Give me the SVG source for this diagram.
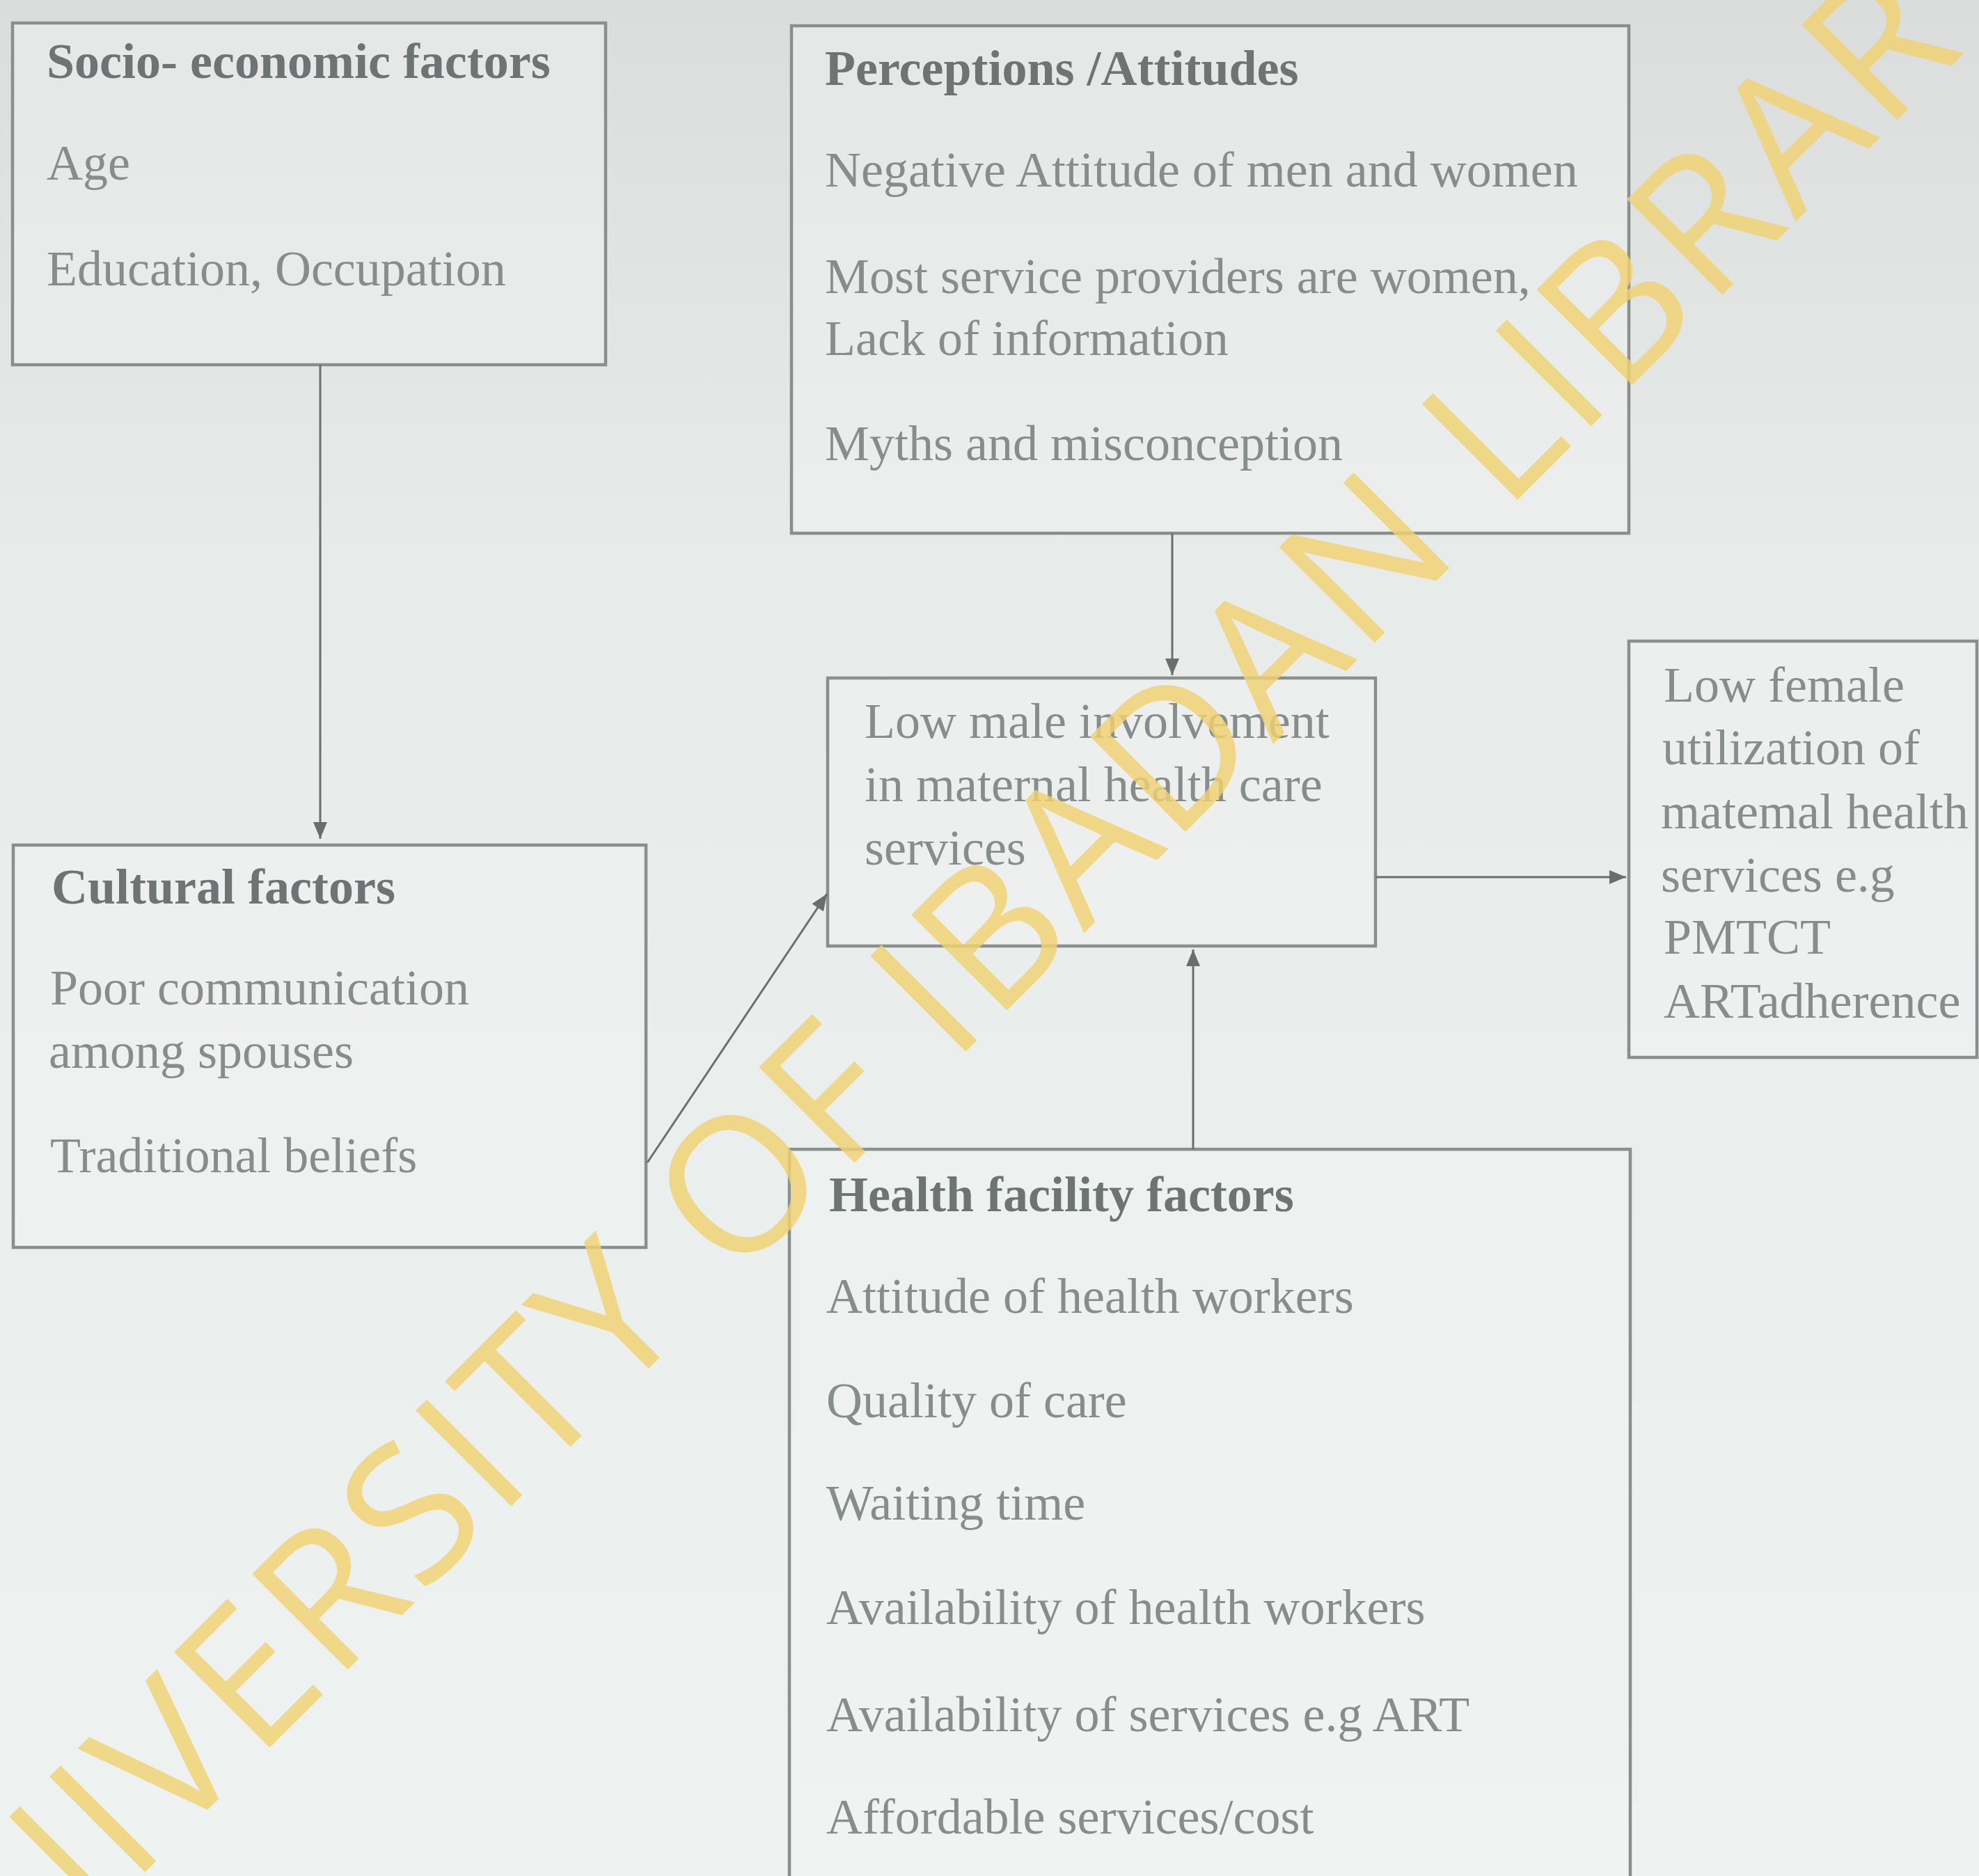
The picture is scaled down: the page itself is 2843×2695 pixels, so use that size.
<svg xmlns="http://www.w3.org/2000/svg" width="2843" height="2695" viewBox="0 0 2843 2695">
<defs>
<linearGradient id="bg" x1="0" y1="0" x2="0" y2="1">
<stop offset="0" stop-color="#dadddc"/>
<stop offset="0.3" stop-color="#e7ebea"/>
<stop offset="1" stop-color="#eef2f1"/>
</linearGradient>
<marker id="ah" markerUnits="userSpaceOnUse" markerWidth="30" markerHeight="24" refX="24" refY="10" orient="auto">
<path d="M0,0 L24,10 L0,20 Z" fill="#6a6e6e"/>
</marker>
<style>
.box{fill:#f1f3f2;fill-opacity:0.45;stroke:#8a8e8e;stroke-width:4.5}
.t{font-family:"Liberation Serif","Times New Roman",serif;font-size:72px;fill:#878c8c}
.h{font-family:"Liberation Serif","Times New Roman",serif;font-size:72px;font-weight:bold;fill:#6e7373}
.c{fill:none;stroke:#6a6e6e;stroke-width:3}
.wm{font-family:"Open Sans","Noto Sans",sans-serif;font-size:272px;letter-spacing:7.5px;fill:#f0d272;fill-opacity:0.82}
</style>
</defs>
<rect x="0" y="0" width="2843" height="2695" fill="url(#bg)"/>

<g id="socio">
<rect class="box" x="18" y="33" width="852" height="491"/>
<text class="h" x="67" y="112">Socio- economic factors</text>
<text class="t" x="67" y="258">Age</text>
<text class="t" x="67" y="410">Education, Occupation</text>
</g>

<g id="perceptions">
<rect class="box" x="1137" y="37" width="1203" height="729"/>
<text class="h" x="1185" y="122">Perceptions /Attitudes</text>
<text class="t" x="1185" y="268">Negative Attitude of men and women</text>
<text class="t" x="1185" y="421">Most service providers are women,</text>
<text class="t" x="1185" y="510">Lack of information</text>
<text class="t" x="1185" y="661">Myths and misconception</text>
</g>

<g id="low-male">
<rect class="box" x="1189" y="974" width="787" height="385"/>
<text class="t" x="1242" y="1060">Low male involvement</text>
<text class="t" x="1242" y="1151">in maternal health care</text>
<text class="t" x="1242" y="1242">services</text>
</g>

<g id="low-female">
<rect class="box" x="2340" y="921" width="500" height="598"/>
<text class="t" x="2390" y="1008">Low female</text>
<text class="t" x="2388" y="1098">utilization of</text>
<text class="t" x="2386" y="1190">matemal health</text>
<text class="t" x="2386" y="1281">services e.g</text>
<text class="t" x="2390" y="1370">PMTCT</text>
<text class="t" x="2390" y="1462">ARTadherence</text>
</g>

<g id="cultural">
<rect class="box" x="19" y="1214" width="909" height="578"/>
<text class="h" x="74" y="1298">Cultural factors</text>
<text class="t" x="72" y="1443">Poor communication</text>
<text class="t" x="70" y="1534">among spouses</text>
<text class="t" x="72" y="1684">Traditional beliefs</text>
</g>

<g id="health">
<rect class="box" x="1134" y="1651" width="1208" height="1070"/>
<text class="h" x="1191" y="1740">Health facility factors</text>
<text class="t" x="1187" y="1886">Attitude of health workers</text>
<text class="t" x="1187" y="2036">Quality of care</text>
<text class="t" x="1187" y="2183">Waiting time</text>
<text class="t" x="1187" y="2333">Availability of health workers</text>
<text class="t" x="1187" y="2487">Availability of services e.g ART</text>
<text class="t" x="1187" y="2634">Affordable services/cost</text>
</g>

<g id="connectors">
<line class="c" x1="460" y1="524" x2="460" y2="1205" marker-end="url(#ah)"/>
<line class="c" x1="1684" y1="766" x2="1684" y2="970" marker-end="url(#ah)"/>
<line class="c" x1="930" y1="1670" x2="1188" y2="1284" marker-end="url(#ah)"/>
<line class="c" x1="1714" y1="1651" x2="1714" y2="1364" marker-end="url(#ah)"/>
<line class="c" x1="1976" y1="1260" x2="2336" y2="1260" marker-end="url(#ah)"/>
</g>

<text class="wm" transform="translate(-106,3004) rotate(-45)" x="0" y="0">UNIVERSITY OF IBADAN LIBRARY</text>
</svg>
